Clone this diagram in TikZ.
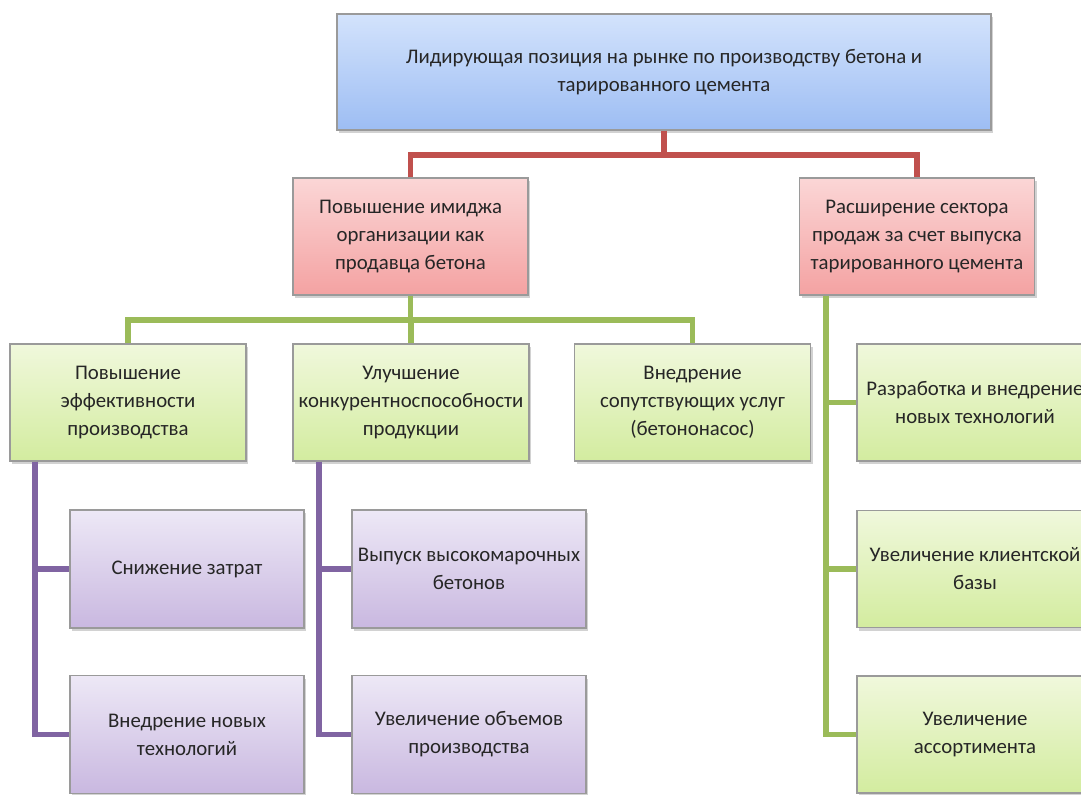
\documentclass[tikz,border=0pt]{standalone}
\usepackage{fontspec}
\setmainfont{Carlito}
\usetikzlibrary{shadows}

\definecolor{txtgray}{HTML}{262626}
\definecolor{boxline}{HTML}{9A9A9A}
\definecolor{redln}{HTML}{C0504D}
\definecolor{greenln}{HTML}{9BBB59}
\definecolor{purpleln}{HTML}{8064A2}
\definecolor{bluetop}{HTML}{D3E3FC}
\definecolor{bluebot}{HTML}{9DBDF3}
\definecolor{redtop}{HTML}{FBD6D6}
\definecolor{redbot}{HTML}{F4A2A2}
\definecolor{greentop}{HTML}{F0F8DC}
\definecolor{greenbot}{HTML}{D3EC9F}
\definecolor{violettop}{HTML}{EDE8F6}
\definecolor{violetbot}{HTML}{C9B8E0}

\tikzset{
  card/.style={draw=boxline, line width=0.6pt, align=center, text=txtgray,
    font=\fontsize{10.4}{14}\selectfont, inner xsep=0pt, inner ysep=2pt,
    drop shadow={shadow xshift=1.2pt, shadow yshift=-1.5pt, opacity=0.35}},
  goalbox/.style={card, minimum width=327pt, minimum height=58pt,
    top color=bluetop, bottom color=bluebot},
  redbox/.style={card, minimum width=117.5pt, minimum height=58.5pt,
    top color=redtop, bottom color=redbot},
  greenbox/.style={card, minimum width=118pt, minimum height=58.5pt,
    top color=greentop, bottom color=greenbot},
  violetbox/.style={card, minimum width=117pt, minimum height=59pt,
    top color=violettop, bottom color=violetbot},
  redline/.style={redln, line width=2.6pt},
  greenline/.style={greenln, line width=2.6pt},
  purpleline/.style={purpleln, line width=2.6pt},
}

\begin{document}
\begin{tikzpicture}[x=0.5pt, y=-0.5pt]
  \clip (0,0) rectangle (1081,794);
  \useasboundingbox (0,0) rectangle (1081,794);
  \fill[white] (0,0) rectangle (1081,794);

  % top goal
  \node[goalbox] (goal) at (664,72) {Лидирующая позиция на рынке по производству бетона и\\тарированного цемента};

  % second level
  \node[redbox] (image) at (410.5,236.5) {Повышение имиджа\\организации как\\продавца бетона};
  \node[redbox] (sales) at (917,236.5) {Расширение сектора\\продаж за счет выпуска\\тарированного цемента};

  % third level under image
  \node[greenbox] (effect) at (128,402.5) {Повышение\\эффективности\\производства};
  \node[greenbox] (compet) at (411,402.5) {Улучшение\\конкурентноспособности\\продукции};
  \node[greenbox] (service) at (692.5,402.5) {Внедрение\\сопутствующих услуг\\(бетононасос)};

  % leaves
  \node[violetbox] (costs) at (187,569) {Снижение затрат};
  \node[violetbox] (newtech) at (187,734.5) {Внедрение новых\\технологий};
  \node[violetbox] (grades) at (469,569) {Выпуск высокомарочных\\бетонов};
  \node[violetbox] (volume) at (469,734.5) {Увеличение объемов\\производства};

  % leaves under sales
  \node[greenbox] (develop) at (975,402.5) {Разработка и внедрение\\новых технологий};
  \node[greenbox] (clients) at (975,569) {Увеличение клиентской\\базы};
  \node[greenbox] (assort) at (975,734.5) {Увеличение\\ассортимента};

  % red connectors
  \draw[redline] (goal.south) -- (goal.south |- 0,155);
  \draw[redline] (image.north) |- (sales.north |- 0,155) -- (sales.north);

  % green connectors
  \draw[greenline] (image.south) -- (image.south |- 0,320);
  \draw[greenline] (effect.north) |- (service.north |- 0,320) -- (service.north);
  \draw[greenline] (compet.north) -- (compet.north |- 0,320);
  \draw[greenline] (sales.south -| 826,0) |- (develop.west);
  \draw[greenline] (sales.south -| 826,0) |- (clients.west);
  \draw[greenline] (sales.south -| 826,0) |- (assort.west);

  % purple connectors
  \draw[purpleline] (effect.south -| 35,0) |- (costs.west);
  \draw[purpleline] (effect.south -| 35,0) |- (newtech.west);
  \draw[purpleline] (compet.south -| 319,0) |- (grades.west);
  \draw[purpleline] (compet.south -| 319,0) |- (volume.west);
\end{tikzpicture}
\end{document}
